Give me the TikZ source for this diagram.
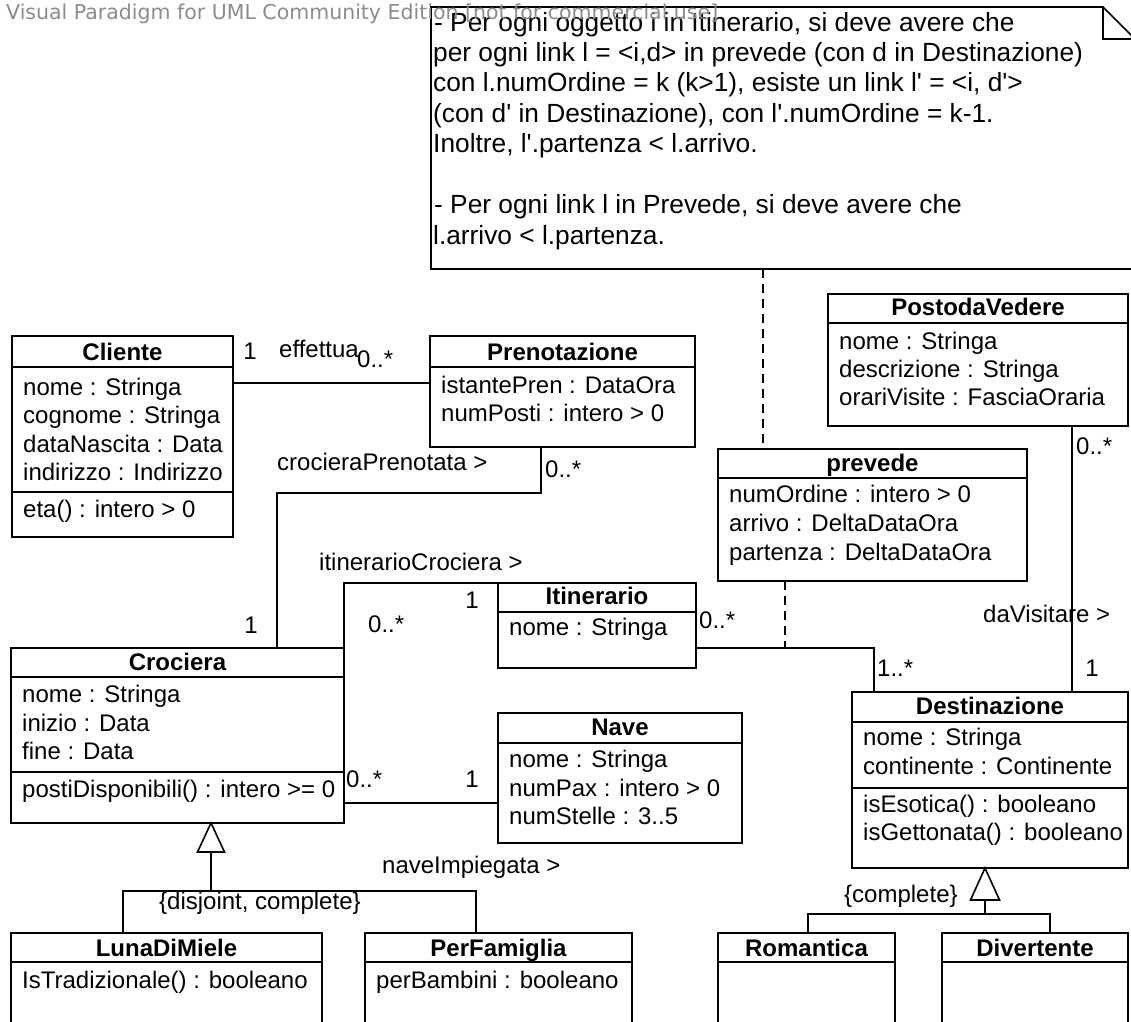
\documentclass[tikz,border=0pt]{standalone}
\usepackage{fontspec}
\setmainfont{Liberation Sans}[Ligatures=TeXOff]
\newfontfamily\wmfont{DejaVu Sans}
\newcommand\boxfont{\fontsize{24}{28}\selectfont}
\newcommand\notefont{\fontsize{26.3}{30}\selectfont}
\begin{document}
\begin{tikzpicture}[x=1pt,y=-1pt]
\tikzset{
  cls/.style={draw, line width=1.8pt, inner sep=0pt, outer sep=0pt, anchor=north west},
  sepl/.style={line width=1.8pt},
  txt/.style={font=\boxfont, inner sep=0pt, anchor=base west},
  ttl/.style={font=\boxfont\bfseries, inner sep=0pt, anchor=base},
  lbl/.style={font=\boxfont, inner sep=0pt, anchor=base west},
  lblc/.style={font=\boxfont, inner sep=0pt, anchor=base},
  ntxt/.style={font=\notefont, inner sep=0pt, anchor=base west},
  assoc/.style={line width=1.6pt},
  dashl/.style={line width=1.6pt, dash pattern=on 9pt off 6pt},
  gen/.style={line width=1.6pt, fill=white, line join=miter},
  wm/.style={font=\wmfont\fontsize{20.5}{24}\selectfont, text=black!45, inner sep=0pt, anchor=base west}
}
\useasboundingbox (0,0) rectangle (1131,1021);
\fill[white] (0,0) rectangle (1131,1021);

% ---------- note ----------
\node[inner sep=0pt, outer sep=0pt, minimum width=704pt, minimum height=262pt, anchor=north west] (note) at (431,7) {};
\draw[line width=1.6pt] (note.north west) -- (1103,7) -- (1135,39) -- (note.south east) -- (note.south west) -- cycle;
\draw[line width=1.6pt] (1103,7) -- (1103,39) -- (1135,39);
\node[ntxt] (n1) at (434,31) {- Per ogni oggetto i in Itinerario, si deve avere che};
\node[ntxt] (n2) at (433,61) {per ogni link l = <i,d> in prevede (con d in Destinazione)};
\node[ntxt] (n3) at (433,91.5) {con l.numOrdine = k (k>1), esiste un link l' = <i, d'>};
\node[ntxt] (n4) at (433,122) {(con d' in Destinazione), con l'.numOrdine = k-1.};
\node[ntxt] (n5) at (433,152.5) {Inoltre, l'.partenza < l.arrivo.};
\node[ntxt] (n6) at (434,213.5) {- Per ogni link l in Prevede, si deve avere che};
\node[ntxt] (n7) at (433,244) {l.arrivo < l.partenza.};
\node[wm] (wmark) at (6,19) {Visual Paradigm for UML Community Edition [not for commercial use]};

% ---------- Cliente ----------
\node[cls, minimum width=221pt, minimum height=201pt] (cliente) at (12,336) {};
\node[ttl] (cliente-t) at (cliente.north |- 0,360) {Cliente};
\draw[sepl] (cliente.west |- 0,367) -- (cliente.east |- 0,367);
\node[txt] (cliente-a1) at (23,395) {nome : Stringa};
\node[txt] (cliente-a2) at (23,423) {cognome : Stringa};
\node[txt] (cliente-a3) at (23,452) {dataNascita : Data};
\node[txt] (cliente-a4) at (23,480) {indirizzo : Indirizzo};
\draw[sepl] (cliente.west |- 0,492) -- (cliente.east |- 0,492);
\node[txt] (cliente-o1) at (23,517) {eta() : intero > 0};

% ---------- Prenotazione ----------
\node[cls, minimum width=265pt, minimum height=111pt] (prenotazione) at (430,336) {};
\node[ttl] (pren-t) at (prenotazione.north |- 0,360) {Prenotazione};
\draw[sepl] (prenotazione.west |- 0,367) -- (prenotazione.east |- 0,367);
\node[txt] (pren-a1) at (441,393) {istantePren : DataOra};
\node[txt] (pren-a2) at (441,421) {numPosti : intero > 0};

% ---------- PostodaVedere ----------
\node[cls, minimum width=300pt, minimum height=132pt] (posto) at (828,294) {};
\node[ttl] (posto-t) at (posto.north |- 0,315) {PostodaVedere};
\draw[sepl] (posto.west |- 0,323) -- (posto.east |- 0,323);
\node[txt] (posto-a1) at (839,349) {nome : Stringa};
\node[txt] (posto-a2) at (839,377) {descrizione : Stringa};
\node[txt] (posto-a3) at (839,405) {orariVisite : FasciaOraria};

% ---------- prevede ----------
\node[cls, minimum width=309pt, minimum height=132pt] (prevede) at (718,449) {};
\node[ttl] (prevede-t) at (prevede.north |- 0,471) {prevede};
\draw[sepl] (prevede.west |- 0,478) -- (prevede.east |- 0,478);
\node[txt] (prevede-a1) at (729,502) {numOrdine : intero > 0};
\node[txt] (prevede-a2) at (729,531) {arrivo : DeltaDataOra};
\node[txt] (prevede-a3) at (729,560) {partenza : DeltaDataOra};

% ---------- Itinerario ----------
\node[cls, minimum width=198pt, minimum height=85pt] (itinerario) at (498,583) {};
\node[ttl] (itin-t) at (itinerario.north |- 0,604) {Itinerario};
\draw[sepl] (itinerario.west |- 0,612) -- (itinerario.east |- 0,612);
\node[txt] (itin-a1) at (509,635) {nome : Stringa};

% ---------- Crociera ----------
\node[cls, minimum width=333pt, minimum height=175pt] (crociera) at (11,648) {};
\node[ttl] (croc-t) at (crociera.north |- 0,670) {Crociera};
\draw[sepl] (crociera.west |- 0,677) -- (crociera.east |- 0,677);
\node[txt] (croc-a1) at (22,702) {nome : Stringa};
\node[txt] (croc-a2) at (22,731) {inizio : Data};
\node[txt] (croc-a3) at (22,759) {fine : Data};
\draw[sepl] (crociera.west |- 0,772) -- (crociera.east |- 0,772);
\node[txt] (croc-o1) at (22,797) {postiDisponibili() : intero >= 0};

% ---------- Nave ----------
\node[cls, minimum width=244pt, minimum height=130pt] (nave) at (498,713) {};
\node[ttl] (nave-t) at (nave.north |- 0,735) {Nave};
\draw[sepl] (nave.west |- 0,743) -- (nave.east |- 0,743);
\node[txt] (nave-a1) at (509,767) {nome : Stringa};
\node[txt] (nave-a2) at (509,796) {numPax : intero > 0};
\node[txt] (nave-a3) at (509,824) {numStelle : 3..5};

% ---------- Destinazione ----------
\node[cls, minimum width=276pt, minimum height=176pt] (dest) at (852,692) {};
\node[ttl] (dest-t) at (dest.north |- 0,714) {Destinazione};
\draw[sepl] (dest.west |- 0,722) -- (dest.east |- 0,722);
\node[txt] (dest-a1) at (863,745) {nome : Stringa};
\node[txt] (dest-a2) at (863,774) {continente : Continente};
\draw[sepl] (dest.west |- 0,788) -- (dest.east |- 0,788);
\node[txt] (dest-o1) at (863,812) {isEsotica() : booleano};
\node[txt] (dest-o2) at (863,840) {isGettonata() : booleano};

% ---------- bottom row ----------
\node[cls, minimum width=311pt, minimum height=100pt] (luna) at (11,933) {};
\node[ttl] (luna-t) at (luna.north |- 0,956) {LunaDiMiele};
\draw[sepl] (luna.west |- 0,962) -- (luna.east |- 0,962);
\node[txt] (luna-o1) at (22,988) {IsTradizionale() : booleano};

\node[cls, minimum width=267pt, minimum height=100pt] (famiglia) at (365,933) {};
\node[ttl] (fam-t) at (famiglia.north |- 0,956) {PerFamiglia};
\draw[sepl] (famiglia.west |- 0,962) -- (famiglia.east |- 0,962);
\node[txt] (fam-a1) at (376,988) {perBambini : booleano};

\node[cls, minimum width=177pt, minimum height=100pt] (romantica) at (718,933) {};
\node[ttl] (rom-t) at (romantica.north |- 0,956) {Romantica};
\draw[sepl] (romantica.west |- 0,962) -- (romantica.east |- 0,962);

\node[cls, minimum width=186pt, minimum height=100pt] (divertente) at (942,933) {};
\node[ttl] (div-t) at (divertente.north |- 0,956) {Divertente};
\draw[sepl] (divertente.west |- 0,962) -- (divertente.east |- 0,962);

% ---------- associations ----------
% effettua
\draw[assoc] (cliente.east |- 0,383) -- (prenotazione.west |- 0,383);
\node[lblc] (m-cl1) at (250,359) {1};
\node[lblc] (l-eff) at (319,357) {effettua};
\node[lbl] (m-cl2) at (357,367) {0..*};

% crocieraPrenotata
\coordinate (cp1) at (541,493);
\coordinate (cp2) at (277,493);
\draw[assoc] (prenotazione.south -| cp1) -- (cp1) -- (cp2) -- (crociera.north -| cp2);
\node[lbl] (l-cp) at (277,470) {crocieraPrenotata >};
\node[lbl] (m-cp1) at (545,477) {0..*};
\node[lblc] (m-cp2) at (251,633) {1};

% itinerarioCrociera
\coordinate (ic1) at (344,583);
\draw[assoc] (ic1 |- crociera.north) -- (ic1) -- (itinerario.west |- ic1);
\node[lbl] (l-ic) at (319,570) {itinerarioCrociera >};
\node[lblc] (m-ic1) at (472,608) {1};
\node[lbl] (m-ic2) at (368,632) {0..*};

% naveImpiegata
\draw[assoc] (crociera.east |- 0,803) -- (nave.west |- 0,803);
\node[lbl] (m-ni1) at (346,787) {0..*};
\node[lblc] (m-ni2) at (472,787) {1};
\node[lbl] (l-ni) at (382,873) {naveImpiegata >};

% prevede
\coordinate (pv1) at (874,648);
\coordinate (pvm) at (785,648);
\draw[assoc] (itinerario.east |- pv1) -- (pv1) -- (dest.north -| pv1);
\draw[dashl] (prevede.south -| pvm) -- (pvm);
\node[lbl] (m-pv1) at (699,628) {0..*};
\node[lbl] (m-pv2) at (877,676) {1..*};

% daVisitare
\coordinate (dv) at (1072,500);
\draw[assoc] (posto.south -| dv) -- (dest.north -| dv);
\node[lbl] (m-dv1) at (1076,454) {0..*};
\node[lbl] (l-dv) at (983,622) {daVisitare >};
\node[lblc] (m-dv2) at (1092,676) {1};

% note anchor
\coordinate (na) at (763,300);
\draw[dashl] (note.south -| na) -- (prevede.north -| na);

% ---------- generalizations ----------
\coordinate (g1) at (211,891);
\draw[assoc] (luna.north -| 123,0) -- (123,891) -- (476,891) -- (famiglia.north -| 476,0);
\draw[assoc] (g1) -- (211,852);
\draw[gen] (crociera.south -| g1) -- (224.5,852) -- (197.5,852) -- cycle;
\node[lbl] (l-dc) at (159,909) {\{disjoint, complete\}};

\coordinate (g2) at (985,914);
\draw[assoc] (romantica.north -| 808,0) -- (808,914) -- (1050,914) -- (divertente.north -| 1050,0);
\draw[assoc] (g2) -- (985,900);
\draw[gen] (dest.south -| g2) -- (999.5,900) -- (970.5,900) -- cycle;
\node[lbl] (l-c) at (844,902) {\{complete\}};
\end{tikzpicture}
\end{document}
